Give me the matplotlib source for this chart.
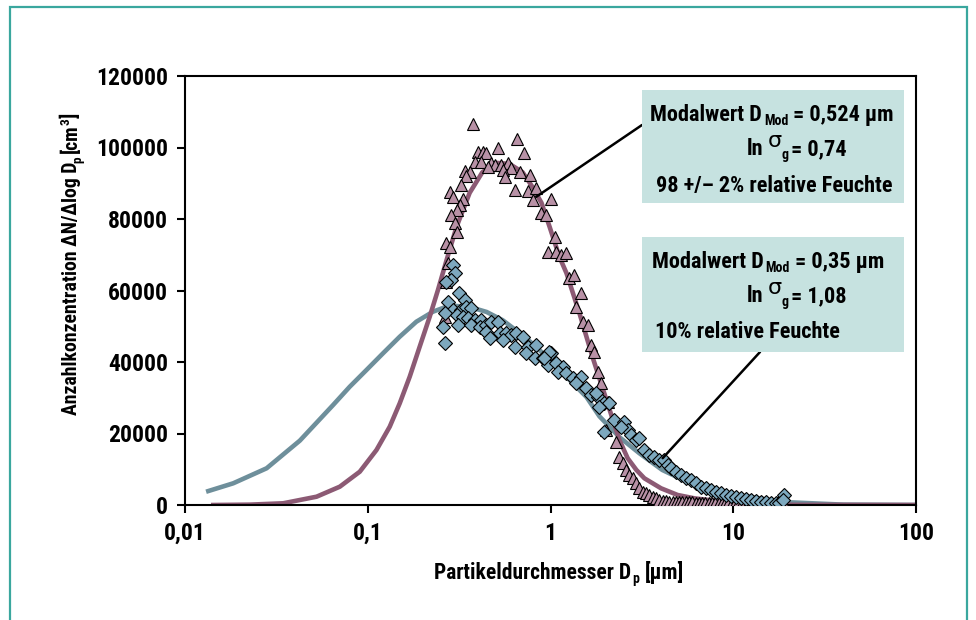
import os
import matplotlib
matplotlib.use("Agg")
import matplotlib.pyplot as plt
from matplotlib import font_manager
from matplotlib.font_manager import FontProperties
from matplotlib.patches import Rectangle

# ---------------- font choice (condensed bold if available) ----------------
files = [f.fname for f in font_manager.fontManager.ttflist]
bases = {os.path.basename(p).lower(): p for p in files}
prefs = ["robotocondensed-bold.ttf", "liberationsansnarrow-bold.ttf", "notosans-condensedbold.ttf",
         "opensans-condensedbold.ttf", "dejavusanscondensed-bold.ttf"]
FONT_FILE = None
for p in prefs:
    if p in bases:
        FONT_FILE = bases[p]
        break
if FONT_FILE is None:
    FONT_FILE = font_manager.findfont(FontProperties(family="DejaVu Sans", weight="bold"))


def fp(size):
    return FontProperties(fname=FONT_FILE, size=size)


# ---------------- data ----------------
x_ticks = [0.01, 0.1, 1, 10, 100]
x_tick_labels = ["0,01", "0,1", "1", "10", "100"]
y_ticks = [0, 20000, 40000, 60000, 80000, 100000, 120000]
y_tick_labels = ["0", "20000", "40000", "60000", "80000", "100000", "120000"]

# fitted log-normal curve, 98 % RH
fit98_d = [0.01428, 0.02265, 0.03446, 0.05246, 0.07031, 0.09043, 0.1116, 0.1319, 0.1496, 0.1697,
           0.1924, 0.2183, 0.2422, 0.270, 0.306, 0.361, 0.424, 0.506, 0.597, 0.703,
           0.798, 0.893, 0.989, 1.119, 1.222, 1.439, 1.698, 2.023, 2.382, 2.645,
           2.951, 3.264, 4.027, 4.962, 6.121, 9.31, 14.17, 21.5, 100.0]
fit98_n = [0, 100, 480, 2320, 5120, 9310, 15380, 21900, 28440, 35890,
           44280, 52670, 60140, 68500, 77800, 87300, 93100, 95700, 95400, 93100,
           88900, 84500, 77800, 69400, 64900, 53700, 41400, 29400, 18200, 13060,
           9800, 7470, 4670, 2800, 1870, 750, 280, 50, 0]

# fitted log-normal curve, 10 % RH
fit10_d = [0.01341, 0.01836, 0.02796, 0.04249, 0.06462, 0.07972, 0.09838, 0.1212, 0.1496, 0.1845,
           0.2275, 0.2692, 0.299, 0.361, 0.447, 0.547, 0.678, 0.838, 1.025, 1.27,
           1.574, 1.853, 2.382, 3.06, 4.09, 5.75, 8.71, 13.4, 18.5, 40.0, 100.0]
fit10_n = [3900, 6070, 10270, 18000, 27970, 33090, 37760, 42430, 47070, 51270,
           54070, 55460, 55700, 55400, 54000, 51700, 48100, 44200, 39700, 35000,
           30200, 24800, 19000, 14500, 9800, 6200, 3400, 2000, 840, 100, 0]

# measured, 98 +/- 2 % RH (triangles)
tri_d = [0.376, 0.654, 0.518, 0.401, 0.427, 0.445, 0.712, 0.384, 0.418, 0.474,
         0.494, 0.454, 0.538, 0.584, 0.610, 0.677, 0.768, 0.549, 0.561, 0.339,
         0.361, 0.346, 0.325, 0.636, 0.752, 0.835, 0.281, 0.292, 0.332, 0.807,
         1.009, 0.318, 0.306, 0.287, 0.890, 0.939, 0.299, 0.308, 1.052, 0.269,
         0.281, 0.275, 0.966, 1.074, 1.144, 1.218, 1.270, 1.352, 1.472, 0.269,
         0.264, 1.382, 1.502, 1.599, 1.669, 1.740, 1.813, 1.892, 2.056, 2.015,
         2.286, 2.382, 2.484, 2.593, 2.703, 2.818, 2.941, 3.065, 3.195, 3.334,
         3.475, 3.622, 3.781, 3.941, 4.109,
         4.285, 4.467, 4.656, 4.853, 5.058, 5.272, 5.495, 5.728, 5.970, 6.223,
         6.486, 6.761, 7.047, 7.345, 7.656, 7.980, 8.318, 8.670, 9.036, 9.419,
         9.817, 10.23, 10.67, 11.12, 11.59, 12.08, 12.59, 13.12, 13.68, 14.26,
         14.86, 15.49, 16.14, 16.83, 17.54, 18.28, 19.05]
tri_n = [106600, 102300, 99800, 98800, 98800, 98500, 98400, 96000, 96000, 95600,
         95100, 94600, 95100, 95600, 94200, 93200, 92300, 93700, 91700, 93500,
         93200, 92000, 89500, 88100, 87900, 88600, 87600, 86200, 85500, 85300,
         85500, 83900, 82500, 81100, 81600, 81100, 78800, 76400, 75000, 73200,
         72200, 67600, 70800, 70800, 69900, 70400, 63400, 64300, 59200, 62500,
         52700, 55500, 51300, 50300, 44800, 42900, 37300, 34000, 28900, 21000,
         17700, 13500, 11700, 9800, 8400, 7500, 6100, 4700, 3700, 3300,
         2800, 2300, 1900, 1400, 1100,
         1000, 950, 900, 850, 800, 780, 750, 720, 700, 680,
         650, 630, 600, 580, 560, 540, 520, 500, 500, 480,
         470, 460, 450, 440, 430, 420, 410, 400, 400, 390,
         380, 370, 360, 350, 340, 330, 320]

# measured, 10 % RH (diamonds)
dia_d = [0.292, 0.299, 0.287, 0.269, 0.315, 0.275, 0.339, 0.292, 0.325, 0.346,
         0.369, 0.264, 0.306, 0.332, 0.353, 0.384, 0.418, 0.311, 0.369, 0.409,
         0.445, 0.474, 0.515, 0.258, 0.264, 0.445, 0.464, 0.526, 0.573, 0.610,
         0.650, 0.706, 0.549, 0.636, 0.752, 0.835, 0.737, 0.818, 0.908, 1.009,
         0.966, 1.074, 1.167, 1.096, 1.218, 1.324, 1.472, 1.382, 1.567, 1.669,
         1.813, 1.973, 2.101, 1.853, 1.973, 2.237, 2.537, 2.645, 2.434, 2.761,
         2.941, 3.065, 3.264, 3.475, 3.701, 3.941, 4.198, 4.375, 4.567, 4.863,
         5.178, 5.514, 5.871, 6.254, 6.659, 7.093, 7.553, 8.045, 8.566, 9.123,
         9.714, 10.35, 11.02, 11.73, 12.50, 13.30, 14.17, 15.09, 16.07, 17.11,
         17.84, 19.0, 18.6, 0.987, 0.927, 1.777]
dia_n = [67100, 64800, 62900, 62500, 59200, 56900, 57300, 54500, 54500, 55500,
         55000, 53600, 53100, 52700, 52200, 51700, 51700, 50300, 50300, 49900,
         50300, 51300, 51300, 49900, 45200, 48500, 46600, 48000, 48000, 47500,
         48000, 47100, 46100, 44300, 44300, 44800, 42400, 41000, 41000, 42400,
         39200, 39600, 38700, 37300, 36800, 35400, 35900, 34000, 32600, 30800,
         30300, 28400, 28400, 27500, 20500, 23800, 23300, 21000, 21900, 19600,
         18200, 18700, 15400, 14000, 13500, 12600, 12600, 11200, 10300, 9300,
         8400, 7500, 7000, 6100, 5100, 4700, 4200, 3700, 3300, 2800,
         2600, 2300, 1900, 1700, 1400, 1100, 900, 750, 500, 500,
         500, 2800, 1400, 42900, 41000, 31200]

# ---------------- figure ----------------
W, H = 976, 620
fig = plt.figure(figsize=(W / 100, H / 100), dpi=100)
renderer = fig.canvas.get_renderer()


def fx(px):
    return px / W


def fy(py):
    return 1 - py / H


def rich(x, y, pieces, ha="left", rotation=0, z=6):
    """pieces: (text, size, raise_px, gap_before_px, family_or_None)"""
    widths = []
    for s, size, dy, gap, fam in pieces:
        kw = dict(family=fam, size=size, weight="normal") if fam else dict(fontproperties=fp(size))
        t = fig.text(0, 0, s, **kw)
        widths.append(t.get_window_extent(renderer).width)
        t.remove()
    total = sum(widths) + sum(p[3] for p in pieces)
    off = {"left": 0, "center": -total / 2, "right": -total}[ha]
    for (s, size, dy, gap, fam), w in zip(pieces, widths):
        off += gap
        if rotation == 0:
            px, py = x + off, y - dy
        else:
            px, py = x - dy, y - off
        kw = dict(family=fam, size=size, weight="normal") if fam else dict(fontproperties=fp(size))
        fig.text(fx(px), fy(py), s, ha="left", va="baseline", rotation=rotation,
                 rotation_mode="anchor", zorder=z, **kw)
        off += w


ax = fig.add_axes([fx(185), fy(505), (916 - 185) / W, (505 - 76) / H])
ax.set_xscale("log")
ax.set_xlim(0.01, 100)
ax.set_ylim(0, 120000)

ax.plot(fit10_d, fit10_n, color="#6E8F9B", lw=3.3, zorder=2)
ax.plot(fit98_d, fit98_n, color="#8C5A74", lw=3.3, zorder=2.1)
ax.plot(tri_d, tri_n, ls="none", marker="^", ms=8.5, mfc="#B891A6", mec="black", mew=0.8, zorder=3)
ax.plot(dia_d, dia_n, ls="none", marker="D", ms=7.0, mfc="#7DA8BE", mec="black", mew=0.8, zorder=4)

ax.set_xticks(x_ticks)
ax.set_xticklabels(x_tick_labels)
ax.xaxis.set_minor_locator(matplotlib.ticker.NullLocator())
ax.set_yticks(y_ticks)
ax.set_yticklabels(y_tick_labels)
ax.tick_params(direction="out", length=6, width=1.5, pad=6, colors="black")
for lab in ax.get_xticklabels() + ax.get_yticklabels():
    lab.set_fontproperties(fp(17))
for sp in ax.spines.values():
    sp.set_linewidth(1.5)
    sp.set_color("black")

# axis titles
rich(77, 264, [("Anzahlkonzentration \u0394N/\u0394log D", 14.2, 0, 0, None),
               ("p", 9.5, -4, -1, None),
               ("[cm", 14.2, 0, 3, None),
               ("3", 9.5, 7, 0, None),
               ("]", 14.2, 0, 0, None)], ha="center", rotation=90)
rich(559, 579, [("Partikeldurchmesser D", 15.5, 0, 0, None),
                ("p", 10, -4, 1, None),
                ("[\u00b5m]", 15.5, 0, 6, None)], ha="center")

# outer teal frame
fig.patches.append(Rectangle((fx(10), -0.05), (967 - 10) / W, fy(7) + 0.05, transform=fig.transFigure,
                             fill=False, ec="#3AA79E", lw=1.6))

# annotation boxes
for top, bot in [(90, 203), (237, 352)]:
    fig.patches.append(Rectangle((fx(642), fy(bot)), (904 - 642) / W, (bot - top) / H,
                                 transform=fig.transFigure, fc="#C6E2E0", ec="none", zorder=5))

BS = 16
rich(772, 121, [("Modalwert D", BS, 0, 0, None), ("Mod", 10, -4, 2, None),
                ("= 0,524 \u00b5m", BS, 0, 5, None)], ha="center")
rich(774, 192, [("98 +/\u2013 2% relative Feuchte", BS, 0, 0, None)], ha="center")
rich(768, 268, [("Modalwert D", BS, 0, 0, None), ("Mod", 10, -4, 2, None),
                ("= 0,35 \u00b5m", BS, 0, 5, None)], ha="center")
rich(655, 338, [("10% relative Feuchte", BS, 0, 0, None)], ha="left")
for base, val in [(155, "= 0,74"), (302, "= 1,08")]:
    rich(747, base, [("ln", BS, 0, 0, None),
                     ("\u03c3", 16, 8, 4, "DejaVu Sans"),
                     ("g", 10, -4, 0, None),
                     (val, BS, 0, 2, None)])

# connector lines
ax.annotate("", xy=(0.835, 86200), xytext=(fx(642), fy(125)), textcoords="figure fraction",
            arrowprops=dict(arrowstyle="-", color="black", lw=1.8, shrinkA=0, shrinkB=0),
            annotation_clip=False, zorder=4.5)
ax.annotate("", xy=(4.11, 13100), xytext=(fx(760), fy(352)), textcoords="figure fraction",
            arrowprops=dict(arrowstyle="-", color="black", lw=1.8, shrinkA=0, shrinkB=0),
            annotation_clip=False, zorder=4.5)

fig.savefig("out.png", dpi=100)
